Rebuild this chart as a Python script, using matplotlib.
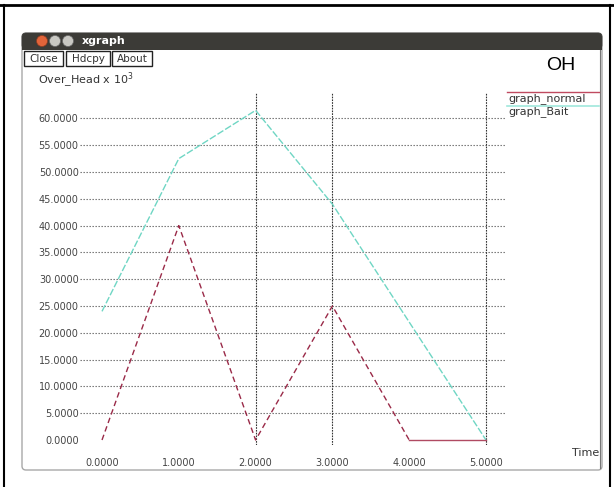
import matplotlib
matplotlib.use("Agg")
from matplotlib import pyplot as plt
from matplotlib.patches import FancyBboxPatch, Rectangle, Circle

# data
t = [0, 1, 2, 3, 4, 5]
graph_normal = [0, 40, 0, 25, 0, 0]
graph_bait = [24, 52.5, 61.5, 44, 22, 0]
yticks = [0, 5, 10, 15, 20, 25, 30, 35, 40, 45, 50, 55, 60]
ygrid = yticks[1:]
xticks = [0, 1, 2, 3, 4, 5]
xgrid = [2, 3, 5]

W, H = 614, 487
plt.rcParams['font.family'] = ['DejaVu Sans']
fig = plt.figure(figsize=(W / 100, H / 100), dpi=100)

# background layer in pixel coords
bg = fig.add_axes([0, 0, 1, 1])
bg.set_xlim(0, W)
bg.set_ylim(H, 0)
bg.axis('off')

# page borders
bg.plot([0, W], [5, 5], color='black', lw=2)
bg.plot([4, 4], [5, H], color='black', lw=1.5)
bg.plot([610, 610], [5, H], color='black', lw=1.5)

# window
bg.add_patch(FancyBboxPatch((22, 33), 580, 437, boxstyle="round,pad=0,rounding_size=4",
                            fc='white', ec='#a8a8a8', lw=1))
bg.add_patch(FancyBboxPatch((22, 33), 580, 16, boxstyle="round,pad=0,rounding_size=4",
                            fc='#3c3b37', ec='#3c3b37', lw=0.5))
bg.add_patch(Rectangle((22, 44), 580, 6, fc='#3c3b37', ec='none'))
bg.add_patch(Circle((42, 41), 5.5, fc='#e2643a', ec='#8a3a20', lw=0.5))
bg.add_patch(Circle((55, 41), 5.5, fc='#c9c8c3', ec='#666', lw=0.5))
bg.add_patch(Circle((68, 41), 5.5, fc='#c9c8c3', ec='#666', lw=0.5))
bg.text(82, 41, 'xgraph', color='white', fontsize=8, fontweight='bold', va='center')
bg.plot([600, 600], [50, 468], color='#777', lw=0.8)

# buttons
for x0, x1, lab in [(24, 63, 'Close'), (66, 110, 'Hdcpy'), (112, 152, 'About')]:
    bg.add_patch(Rectangle((x0, 51), x1 - x0, 15, fc='white', ec='#222', lw=1))
    bg.text((x0 + x1) / 2, 58.5, lab, fontsize=7.5, ha='center', va='center', color='#333')

bg.text(561, 65, 'OH', fontsize=14, ha='center', va='center', family='Liberation Sans')
bg.text(38, 80, 'Over_Head x 10$^3$', fontsize=8, va='center', color='#333')
bg.text(599, 453, 'Time', fontsize=8, ha='right', va='center', color='#333')

# legend
bg.plot([507, 599], [92, 92], color='#c04a60', lw=1)
bg.text(508, 98.5, 'graph_normal', fontsize=8, va='center', color='#333')
bg.plot([507, 599], [106, 106], color='#a0e8dc', lw=1.2)
bg.text(508, 112, 'graph_Bait', fontsize=8, va='center', color='#333')

# plot area: x0 at px 102, 76.8 px/unit ; y0 at px 440, 5.36 px/unit
L, R, T, B = 80, 506, 93, 445
ax = fig.add_axes([L / W, (H - B) / H, (R - L) / W, (B - T) / H])
ax.patch.set_alpha(0)
ax.set_xlim((L - 102) / 76.8, (R - 102) / 76.8)
ax.set_ylim((440 - B) / 5.36, (440 - T) / 5.36)
for s in ax.spines.values():
    s.set_visible(False)

for y in ygrid:
    ax.axhline(y, color='#666', lw=0.8, ls=(0, (1.2, 1.5)), zorder=1)
for x in xgrid:
    ax.axvline(x, color='#333', lw=0.8, ls=(0, (1.5, 1)), zorder=1)

ax.plot(t, graph_bait, color='#6fd6c4', lw=1.0, ls=(0, (5, 1.5)), zorder=3)
ax.plot(t[:5], graph_normal[:5], color='#9a2a48', lw=1.0, ls=(0, (4, 2.5)), zorder=3)
ax.plot(t[4:], graph_normal[4:], color='#b04a62', lw=1.0, zorder=3)

ax.set_yticks(yticks)
ax.set_yticklabels(['%.4f' % v for v in yticks])
ax.set_xticks(xticks)
ax.set_xticklabels(['%.4f' % v for v in xticks])
ax.tick_params(length=0, labelsize=7, labelcolor='#444')
ax.tick_params(axis='y', pad=1)
ax.tick_params(axis='x', pad=9)

fig.savefig('out.png', dpi=100)
